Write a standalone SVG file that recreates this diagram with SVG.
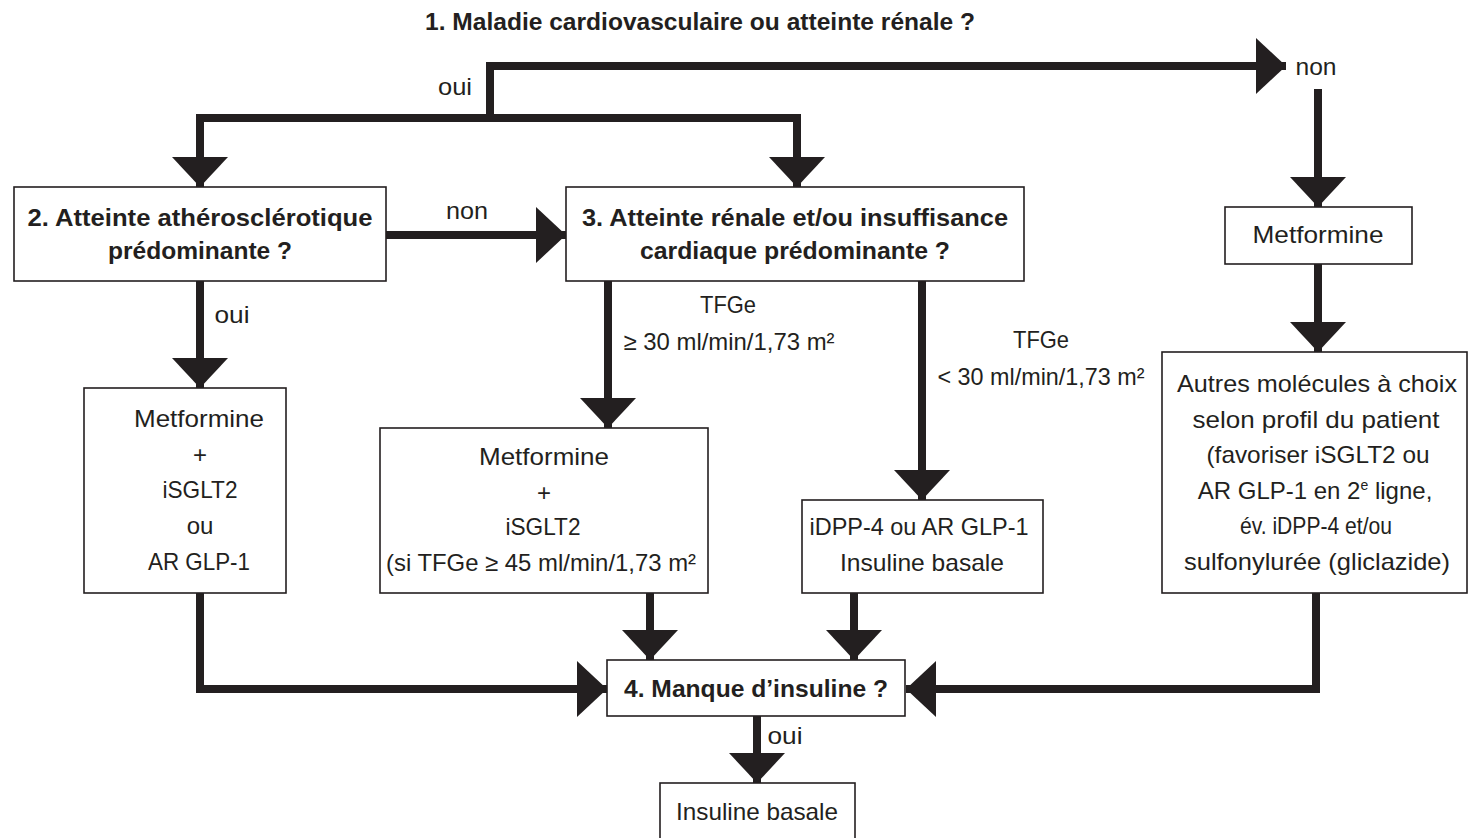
<svg xmlns="http://www.w3.org/2000/svg" width="1468" height="838" viewBox="0 0 1468 838">
<style>
text{font-family:"Liberation Sans",Arial,sans-serif;fill:#231f20;text-anchor:middle;font-size:24px}
.b{font-weight:bold}
.box{fill:#fff;stroke:#231f20;stroke-width:1.6}
.c{fill:none;stroke:#231f20;stroke-width:8;stroke-linejoin:miter;marker-end:url(#ah)}
.n{fill:none;stroke:#231f20;stroke-width:8}
</style>
<defs>
<marker id="ah" markerUnits="userSpaceOnUse" viewBox="0 0 30 56" refX="30" refY="28" markerWidth="30" markerHeight="56" orient="auto">
<path d="M0,0 L30,28 L0,56 Z" fill="#231f20"/>
</marker>
</defs>
<rect width="1468" height="838" fill="#fff"/>
<g id="connectors">
<path class="c" d="M490,118 V66 H1286"/>
<path class="c" d="M490,118 H200 V187"/>
<path class="c" d="M490,118 H797 V187"/>
<path class="c" d="M1318,89 V207"/>
<path class="c" d="M1318,264 V352"/>
<path class="c" d="M386,235 H566"/>
<path class="c" d="M200,281 V388"/>
<path class="c" d="M608,281 V428"/>
<path class="c" d="M922,281 V500"/>
<path class="c" d="M200,593 V689 H607"/>
<path class="c" d="M650,593 V660"/>
<path class="c" d="M854,593 V660"/>
<path class="c" d="M1316,593 V689 H906"/>
<path class="c" d="M757,716 V783"/>
<text x="455" y="95" textLength="34" lengthAdjust="spacingAndGlyphs">oui</text>
<text x="1316" y="75" textLength="41" lengthAdjust="spacingAndGlyphs">non</text>
<text x="467" y="219" textLength="42" lengthAdjust="spacingAndGlyphs">non</text>
<text x="232" y="323" textLength="35" lengthAdjust="spacingAndGlyphs">oui</text>
<text x="728" y="313" textLength="56" lengthAdjust="spacingAndGlyphs">TFGe</text>
<text x="729" y="350" textLength="211" lengthAdjust="spacingAndGlyphs">≥ 30 ml/min/1,73 m²</text>
<text x="1041" y="348" textLength="56" lengthAdjust="spacingAndGlyphs">TFGe</text>
<text x="1041" y="385" textLength="207" lengthAdjust="spacingAndGlyphs">&lt; 30 ml/min/1,73 m²</text>
<text x="785" y="744" textLength="35" lengthAdjust="spacingAndGlyphs">oui</text>
</g>
<g id="title">
<text class="b" x="700" y="30" font-size="23" textLength="550" lengthAdjust="spacingAndGlyphs">1. Maladie cardiovasculaire ou atteinte rénale ?</text>
</g>
<g id="q2">
<rect class="box" x="14" y="187" width="372" height="94"/>
<text class="b" x="200" y="226" textLength="345" lengthAdjust="spacingAndGlyphs">2. Atteinte athérosclérotique</text>
<text class="b" x="200" y="259" textLength="184" lengthAdjust="spacingAndGlyphs">prédominante ?</text>
</g>
<g id="q3">
<rect class="box" x="566" y="187" width="458" height="94"/>
<text class="b" x="795" y="226" textLength="426" lengthAdjust="spacingAndGlyphs">3. Atteinte rénale et/ou insuffisance</text>
<text class="b" x="795" y="259" textLength="310" lengthAdjust="spacingAndGlyphs">cardiaque prédominante ?</text>
</g>
<g id="metformine">
<rect class="box" x="1225" y="207" width="187" height="57"/>
<text x="1318" y="243" textLength="131" lengthAdjust="spacingAndGlyphs">Metformine</text>
</g>
<g id="autres">
<rect class="box" x="1162" y="352" width="305" height="241"/>
<text x="1317" y="392" textLength="280" lengthAdjust="spacingAndGlyphs">Autres molécules à choix</text>
<text x="1316" y="428" textLength="247" lengthAdjust="spacingAndGlyphs">selon profil du patient</text>
<text x="1318" y="463" textLength="223" lengthAdjust="spacingAndGlyphs">(favoriser iSGLT2 ou</text>
<text x="1315" y="499">AR GLP-1 en 2<tspan font-size="14" dy="-9">e</tspan><tspan dy="9"> ligne,</tspan></text>
<text x="1316" y="534" textLength="152" lengthAdjust="spacingAndGlyphs">év. iDPP-4 et/ou</text>
<text x="1317" y="570" textLength="266" lengthAdjust="spacingAndGlyphs">sulfonylurée (gliclazide)</text>
</g>
<g id="traitement-athero">
<rect class="box" x="84" y="388" width="202" height="205"/>
<text x="199" y="427" textLength="130" lengthAdjust="spacingAndGlyphs">Metformine</text>
<text x="200" y="463">+</text>
<text x="200" y="498" textLength="75" lengthAdjust="spacingAndGlyphs">iSGLT2</text>
<text x="200" y="534">ou</text>
<text x="199" y="570" textLength="102" lengthAdjust="spacingAndGlyphs">AR GLP-1</text>
</g>
<g id="traitement-renal">
<rect class="box" x="380" y="428" width="328" height="165"/>
<text x="544" y="465" textLength="130" lengthAdjust="spacingAndGlyphs">Metformine</text>
<text x="544" y="501">+</text>
<text x="543" y="535" textLength="75" lengthAdjust="spacingAndGlyphs">iSGLT2</text>
<text x="541" y="571" textLength="310" lengthAdjust="spacingAndGlyphs">(si TFGe ≥ 45 ml/min/1,73 m²</text>
</g>
<g id="traitement-tfge-bas">
<rect class="box" x="802" y="500" width="241" height="93"/>
<text x="919" y="535" textLength="219" lengthAdjust="spacingAndGlyphs">iDPP-4 ou AR GLP-1</text>
<text x="922" y="571" textLength="164" lengthAdjust="spacingAndGlyphs">Insuline basale</text>
</g>
<g id="q4">
<rect class="box" x="607" y="660" width="298" height="56"/>
<text class="b" x="756" y="697" textLength="264" lengthAdjust="spacingAndGlyphs">4. Manque d’insuline ?</text>
</g>
<g id="insuline-basale">
<rect class="box" x="660" y="783" width="195" height="60"/>
<text x="757" y="820" textLength="162" lengthAdjust="spacingAndGlyphs">Insuline basale</text>
</g>
</svg>
